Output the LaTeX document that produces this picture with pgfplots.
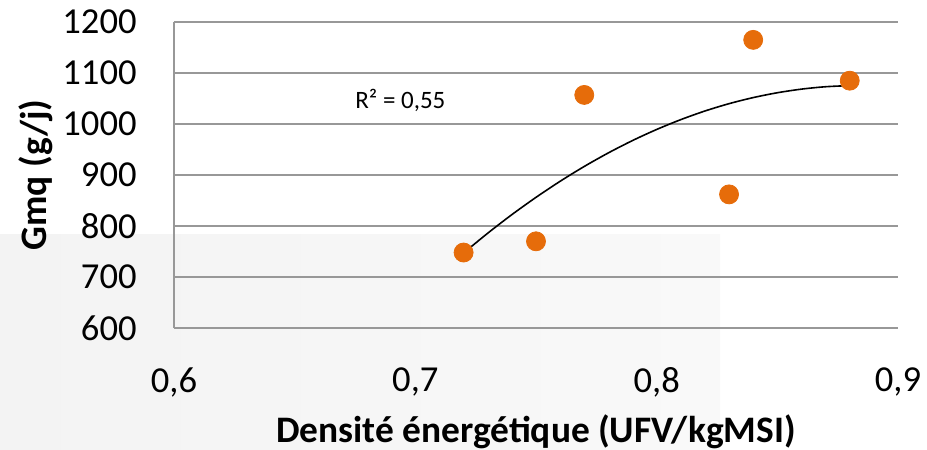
\documentclass[border=0pt]{standalone}
\usepackage{pgfplots}
\pgfplotsset{compat=1.18}
\usepackage{fontspec}
\setmainfont{Carlito}
\definecolor{ptorange}{RGB}{230,108,10}
\definecolor{gridgray}{RGB}{152,152,152}
\definecolor{bgleft}{RGB}{243,243,243}
\definecolor{bgright}{RGB}{249,249,249}

\pgfplotstableread{
x     y
0.72  748
0.75  770
0.77  1057
0.83  862
0.84  1165
0.88  1085
}\gmqdata

% second-order polynomial trend of the observations
\pgfplotstableread{
x     y
0.72  747.1
0.73  785.9
0.74  822.3
0.75  856.2
0.76  887.7
0.77  916.8
0.78  943.4
0.79  967.6
0.80  989.3
0.81  1008.6
0.82  1025.5
0.83  1039.9
0.84  1051.8
0.85  1061.3
0.86  1068.4
0.87  1073.1
0.88  1075.3
}\trenddata

\begin{document}
\begin{tikzpicture}
\useasboundingbox (-87pt,-61pt) rectangle (376.5pt,164pt);
% light slide background
\shade[left color=bgleft, right color=bgright] (-87pt,-61pt) rectangle (273pt,46.5pt);
\begin{axis}[
  at={(0,0)}, anchor=south west,
  scale only axis,
  width=362pt, height=153pt,
  xmin=0.6, xmax=0.9,
  ymin=600, ymax=1200,
  xtick={0.6,0.7,0.8,0.9},
  xticklabels={{0,6},{0,7},{0,8},{0,9}},
  ytick={600,700,800,900,1000,1100,1200},
  yticklabels={600,700,800,900,1000,1100,1200},
  major tick length=0pt,
  axis x line*=bottom,
  axis y line*=left,
  axis line style={gridgray, line width=1pt, -},
  ymajorgrids,
  grid style={gridgray, line width=1pt},
  tick label style={font=\fontsize{18.3}{21}\selectfont, inner sep=0pt},
  yticklabel style={anchor=east, xshift=-18.5pt},
  xticklabel style={anchor=north, yshift=-19.5pt},
  xlabel={\bfseries Densité énergétique (UFV/kgMSI)},
  ylabel={\bfseries Gmq (g/j)},
  xlabel style={at={(axis description cs:0.5,0)}, anchor=base, yshift=-57pt,
    font=\fontsize{18.7}{21}\selectfont, inner sep=0pt},
  ylabel style={at={(axis description cs:0,0.5)}, anchor=center, yshift=69pt,
    font=\fontsize{18.7}{21}\selectfont, inner sep=0pt},
  clip=false,
]
\addplot[black, line width=0.8pt, smooth] table[x=x,y=y] {\trenddata};
\addplot[only marks, mark=*, mark size=4.75pt, color=ptorange,
  mark options={fill=ptorange, draw=ptorange}] table[x=x,y=y] {\gmqdata};
\node[anchor=west, inner sep=0pt, font=\fontsize{12.5}{15}\selectfont]
  at (axis cs:0.675,1047) {R² = 0,55};
\end{axis}
\end{tikzpicture}
\end{document}
